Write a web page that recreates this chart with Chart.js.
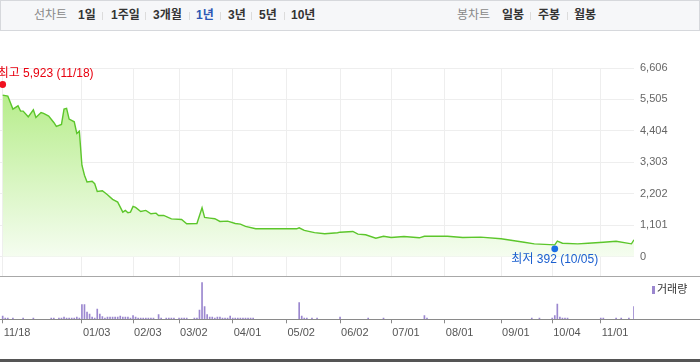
<!DOCTYPE html>
<html>
<head>
<meta charset="utf-8">
<script src="https://cdn.jsdelivr.net/npm/chart.js@4.4.1/dist/chart.umd.min.js"></script>
<style>
  body { margin: 0; background: #fff; font-family: 'Liberation Sans', 'Noto Sans CJK KR', sans-serif; }
  #wrap { position: relative; width: 700px; height: 362px; overflow: hidden; }
  #head { position: absolute; left: 0; top: 0; width: 698px; height: 29px; border: 1px solid #d6d8dc; background: #f6f7f9; }
  #head span { position: absolute; top: 0; line-height: 29px; font-size: 12px; white-space: nowrap; }
  #head .g { color: #888; }
  #head .b { color: #333; font-weight: bold; }
  #head .sel { color: #2c56b4; }
  #head .sep { top: 11px; width: 1px; height: 8px; background: #dcdcdc; }
  #priceChart { position: absolute; left: 0; top: 32px; }
  #volChart { position: absolute; left: 0; top: 276px; }
  .hline { position: absolute; left: 0; width: 700px; }
  #legend { position: absolute; left: 652px; top: 283px; font-size: 11px; color: #333; line-height: 12px; }
  #legend i { display: inline-block; width: 3px; height: 8px; background: #9b87cf; margin-right: 2px; vertical-align: -1px; }
</style>
</head>
<body>
<div id="wrap">
  <div id="head">
    <span class="g" style="left:33px">선차트</span>
    <span class="b" style="left:77px">1일</span>
    <span class="sep" style="left:101px"></span>
    <span class="b" style="left:110px">1주일</span>
    <span class="sep" style="left:144px"></span>
    <span class="b" style="left:152px">3개월</span>
    <span class="sep" style="left:188px"></span>
    <span class="b sel" style="left:195px">1년</span>
    <span class="sep" style="left:219px"></span>
    <span class="b" style="left:227px">3년</span>
    <span class="sep" style="left:250px"></span>
    <span class="b" style="left:258px">5년</span>
    <span class="sep" style="left:283px"></span>
    <span class="b" style="left:290px">10년</span>

    <span class="g" style="left:456px">봉차트</span>
    <span class="b" style="left:501px">일봉</span>
    <span class="sep" style="left:529px"></span>
    <span class="b" style="left:537px">주봉</span>
    <span class="sep" style="left:566px"></span>
    <span class="b" style="left:573px">월봉</span>
  </div>

  <canvas id="priceChart" width="700" height="244"></canvas>
  <div class="hline" style="top:276px;height:1px;background:#a8a8a8"></div>
  <canvas id="volChart" width="700" height="84"></canvas>
  <div class="hline" style="top:319px;height:1px;background:#8a8a8a"></div>
  <div class="hline" style="top:359px;height:3px;background:#555"></div>
  <div id="legend"><i></i>거래량</div>
</div>

<script>
(() => {
  // trading-day index of each x tick, and its label
  const xTickIdx = [0, 31, 51, 69, 90, 111, 132, 152, 173, 195, 215, 234];
  const xTickLabels = ['11/18', '01/03', '02/03', '03/02', '04/01', '05/02', '06/02', '07/01', '08/01', '09/01', '10/04', '11/01'];
  const yTicks = [0, 1101, 2202, 3303, 4404, 5505, 6606];
  const LAST_IDX = 247;

  // closing price, read at the turning points of the line
  const priceIdx = [0, 2, 4, 6, 7, 8, 10, 12, 13, 15, 16, 18, 20, 21, 23, 24, 25, 26, 28, 29,
    30, 31, 32, 33, 35, 36, 37, 39, 41, 43, 45, 47, 48, 49, 50, 51, 52, 54, 56, 58,
    60, 61, 63, 66, 70, 72, 76, 78, 79, 81, 83, 85, 88, 91, 93, 95, 99, 115, 116, 118,
    122, 126, 131, 132, 137, 139, 142, 146, 149, 152, 157, 163, 165, 174, 180, 187, 195, 204, 208, 216,
    217, 219, 225, 229, 235, 240, 246, 247];
  const priceVal = [5657, 5622, 5166, 5282, 5095, 5095, 4896, 5142, 4873, 5048, 5014, 4920, 4698, 4557, 4627, 5166, 5189, 4814, 4720, 4312,
    4393, 3200, 2850, 2611, 2635, 2553, 2284, 2307, 2167, 2003, 1908, 1557, 1616, 1535, 1557, 1757, 1722, 1581, 1616, 1500,
    1522, 1441, 1441, 1320, 1300, 1150, 1160, 1711, 1370, 1346, 1325, 1230, 1240, 1160, 1135, 1055, 973, 973, 1008, 915,
    840, 798, 833, 854, 878, 784, 762, 643, 713, 668, 703, 657, 713, 713, 668, 680, 622, 503, 446, 411,
    538, 467, 446, 467, 503, 538, 446, 587];

  // volume (relative units) on the days that show a bar
  const volIdx = [0, 1, 2, 4, 8, 12, 19, 20, 22, 23, 24, 25, 26, 27, 28, 29, 30, 31, 32, 33,
    34, 35, 36, 37, 38, 39, 40, 41, 42, 43, 44, 45, 46, 47, 48, 49, 50, 51, 52, 53,
    54, 55, 56, 57, 58, 59, 61, 62, 64, 65, 66, 67, 69, 70, 71, 72, 75, 76, 77, 78,
    79, 80, 81, 82, 83, 84, 85, 86, 87, 88, 89, 90, 91, 92, 93, 94, 95, 96, 97, 98,
    116, 117, 118, 119, 121, 123, 132, 143, 149, 165, 166, 207, 210, 215, 216, 217, 218, 219, 220, 221,
    234, 235, 240, 242, 245, 247];
  const volVal = [330, 130, 130, 130, 130, 130, 130, 130, 130, 130, 230, 130, 130, 130, 130, 230, 130, 1470, 1470, 730,
    530, 230, 130, 1030, 530, 270, 130, 230, 230, 230, 230, 230, 330, 230, 230, 230, 130, 370, 230, 130,
    130, 130, 130, 130, 130, 130, 470, 130, 130, 130, 130, 130, 130, 130, 130, 130, 130, 130, 930, 3670,
    1270, 470, 230, 230, 130, 230, 230, 130, 130, 130, 330, 130, 130, 130, 130, 130, 130, 130, 130, 130,
    1670, 330, 130, 130, 130, 130, 230, 130, 130, 370, 130, 130, 130, 130, 370, 1530, 230, 130, 130, 130,
    130, 130, 130, 130, 130, 1270];

  const HIGH = { idx: 0, value: 5923, text: '최고 5,923 (11/18)' };
  const LOW = { idx: 216, value: 392, text: '최저 392 (10/05)' };

  const GRID = '#eeeeee';
  const LINE_GREEN = '#5cc62b';
  const VOL_PURPLE = '#9b87cf';
  const X_MIN = -1.05;

  function setTicks(list) {
    return scale => { scale.ticks = list.map(v => ({ value: v })); };
  }

  function noPad(scale) {
    scale.paddingTop = 0;
    scale.paddingBottom = 0;
    scale.paddingLeft = 0;
    scale.paddingRight = 0;
  }

  function greenFill(context) {
    const chart = context.chart;
    const { ctx, chartArea, scales } = chart;
    if (!chartArea) return 'rgba(180,236,136,0.5)';
    const top = scales.y.getPixelForValue(HIGH.value);
    const bottom = scales.y.getPixelForValue(0);
    const g = ctx.createLinearGradient(0, top, 0, bottom);
    g.addColorStop(0, '#b4ec87');
    g.addColorStop(1, '#f5fdf0');
    return g;
  }

  const ExtremesPlugin = {
    id: 'extremes',
    afterDraw(chart) {
      const { ctx, scales } = chart;
      ctx.save();
      ctx.font = "12px 'Liberation Sans', 'Noto Sans CJK KR'";
      ctx.textBaseline = 'middle';

      // high
      let x = scales.x.getPixelForValue(HIGH.idx);
      let y = scales.y.getPixelForValue(HIGH.value) - 3;
      ctx.fillStyle = '#f01020';
      ctx.beginPath(); ctx.arc(x, y, 3.4, 0, Math.PI * 2); ctx.fill();
      ctx.fillStyle = '#e8000f';
      ctx.textAlign = 'left';
      ctx.fillText(HIGH.text, x - 5, y - 11);

      // low
      x = scales.x.getPixelForValue(LOW.idx);
      y = scales.y.getPixelForValue(LOW.value) + 3.5;
      ctx.fillStyle = '#1a6fe6';
      ctx.beginPath(); ctx.arc(x, y, 3.4, 0, Math.PI * 2); ctx.fill();
      ctx.fillStyle = '#1a5fcf';
      ctx.textAlign = 'center';
      ctx.fillText(LOW.text, x, y + 10.5);
      ctx.restore();
    }
  };

  new Chart(document.getElementById('priceChart').getContext('2d'), {
    type: 'line',
    data: {
      datasets: [{
        data: priceIdx.map((x, i) => ({ x, y: priceVal[i] })),
        borderColor: LINE_GREEN,
        borderWidth: 1.4,
        pointRadius: 0,
        tension: 0,
        fill: { value: 0 },
        backgroundColor: greenFill
      }]
    },
    options: {
      responsive: false,
      animation: false,
      events: [],
      layout: { padding: { top: 36, left: 0, right: 0, bottom: 0 } },
      plugins: { legend: { display: false }, tooltip: { enabled: false } },
      scales: {
        x: {
          type: 'linear', min: X_MIN, max: LAST_IDX,
          afterBuildTicks: setTicks(xTickIdx),
          ticks: { display: false },
          grid: { color: GRID, drawTicks: false },
          border: { display: false },
          afterFit: s => { s.height = 0; noPad(s); }
        },
        y: {
          position: 'right', min: -681, max: 6606,
          afterBuildTicks: setTicks(yTicks),
          ticks: {
            color: '#666', padding: 6,
            font: { family: "'Liberation Sans', sans-serif", size: 11 },
            callback: v => v.toLocaleString('en-US')
          },
          grid: { color: GRID, drawTicks: false },
          border: { display: false },
          afterFit: s => { s.width = 66; noPad(s); }
        }
      }
    },
    plugins: [ExtremesPlugin]
  });

  new Chart(document.getElementById('volChart').getContext('2d'), {
    type: 'bar',
    data: {
      datasets: [{
        data: volIdx.map((x, i) => ({ x, y: volVal[i] })),
        backgroundColor: VOL_PURPLE,
        barThickness: 1
      }]
    },
    options: {
      responsive: false,
      animation: false,
      events: [],
      layout: { padding: { top: 0, left: 0, right: 66, bottom: 0 } },
      plugins: { legend: { display: false }, tooltip: { enabled: false } },
      scales: {
        x: {
          type: 'linear', min: X_MIN, max: LAST_IDX, offset: false,
          afterBuildTicks: setTicks(xTickIdx),
          ticks: {
            align: 'start', labelOffset: 1, padding: 3, maxRotation: 0, autoSkip: false,
            color: '#555', font: { family: "'Liberation Sans', sans-serif", size: 11 },
            callback: (v, i) => xTickLabels[i]
          },
          grid: { offset: false, drawOnChartArea: false, drawTicks: true, tickLength: 4, color: '#8a8a8a' },
          border: { display: false },
          afterFit: s => { s.height = 40.7; noPad(s); }
        },
        y: { display: false, min: 0, max: 4330 }
      }
    }
  });
})();
</script>
</body>
</html>
